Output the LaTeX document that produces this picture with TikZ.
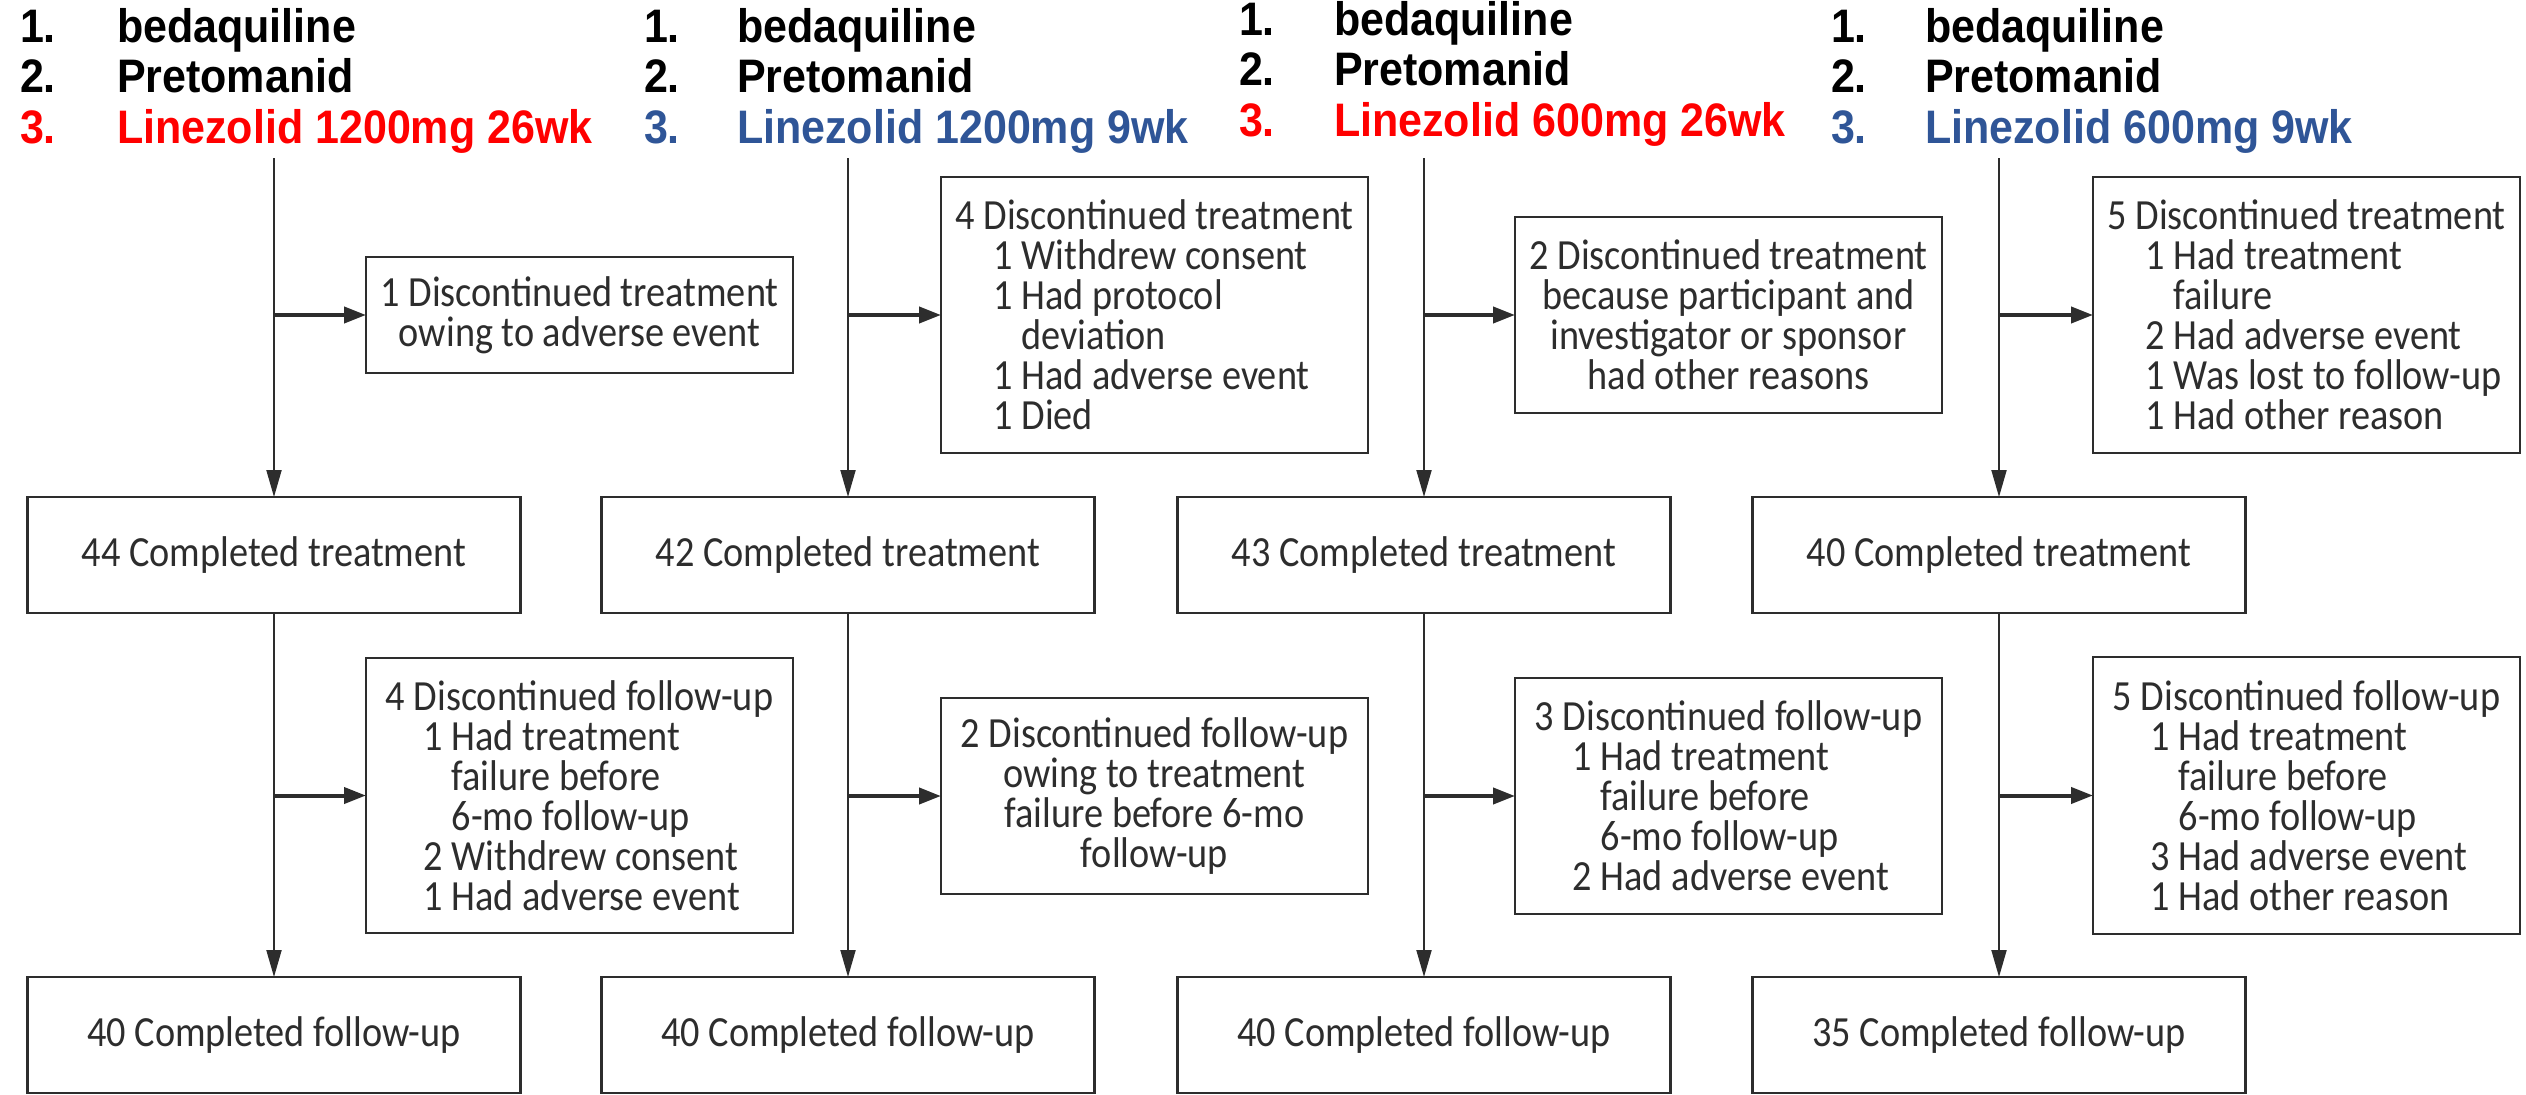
\documentclass[tikz,border=0pt]{standalone}
\usepackage{fontspec}
\usetikzlibrary{arrows.meta}
\newfontfamily\boxfont[FakeStretch=0.89]{Carlito}
\newfontfamily\headfont[FakeStretch=0.915]{Liberation Sans}
\definecolor{armred}{RGB}{255,0,0}
\definecolor{armblue}{RGB}{47,85,151}
\definecolor{ink}{RGB}{45,45,45}
\begin{document}
\begin{tikzpicture}[x=0.5pt,y=-0.5pt,
  every node/.style={inner sep=0pt,outer sep=0pt},
  head/.style={anchor=base west,font=\headfont\bfseries\fontsize{23.5}{26}\selectfont},
  boxbase/.style={draw=ink,line width=1.2pt,fill=white,text=ink,
    font=\boxfont\fontsize{21.5}{20}\selectfont},
  donebox/.style={boxbase,minimum width=246.5pt,minimum height=58pt},
  sidebox/.style={boxbase,minimum width=213.5pt,minimum height=#1},
  lbox/.style={sidebox=#1,align=left},
  cbox/.style={sidebox=#1,align=center},
  trunk/.style={draw=ink,line width=1pt,-{Triangle[length=13.5pt,width=7.5pt]}},
  sidearr/.style={draw=ink,line width=2pt,-{Triangle[length=11pt,width=8pt]}},
]
\useasboundingbox (0,0) rectangle (2526,1094);

% arm headings
\node[head] (n1a) at (20,42) {1.};
\node[head] (d1a) at (117,42) {bedaquiline};
\node[head] (n1b) at (20,92) {2.};
\node[head] (d1b) at (117,92) {Pretomanid};
\node[head,text=armred] (n1c) at (20,143) {3.};
\node[head,text=armred] (d1c) at (117,143) {Linezolid 1200mg 26wk};

\node[head] (n2a) at (644,42) {1.};
\node[head] (d2a) at (737,42) {bedaquiline};
\node[head] (n2b) at (644,92) {2.};
\node[head] (d2b) at (737,92) {Pretomanid};
\node[head,text=armblue] (n2c) at (644,143) {3.};
\node[head,text=armblue] (d2c) at (737,143) {Linezolid 1200mg 9wk};

\node[head] (n3a) at (1239,35) {1.};
\node[head] (d3a) at (1334,35) {bedaquiline};
\node[head] (n3b) at (1239,85) {2.};
\node[head] (d3b) at (1334,85) {Pretomanid};
\node[head,text=armred] (n3c) at (1239,136) {3.};
\node[head,text=armred] (d3c) at (1334,136) {Linezolid 600mg 26wk};

\node[head] (n4a) at (1831,42) {1.};
\node[head] (d4a) at (1925,42) {bedaquiline};
\node[head] (n4b) at (1831,92) {2.};
\node[head] (d4b) at (1925,92) {Pretomanid};
\node[head,text=armblue] (n4c) at (1831,143) {3.};
\node[head,text=armblue] (d4c) at (1925,143) {Linezolid 600mg 9wk};

% trunk starting points
\coordinate (top1) at (274,158);
\coordinate (top2) at (848,158);
\coordinate (top3) at (1424,158);
\coordinate (top4) at (1999,158);

% completed-treatment boxes
\node[donebox] (ct1) at (274,555) {44 Completed treatment};
\node[donebox] (ct2) at (848,555) {42 Completed treatment};
\node[donebox] (ct3) at (1424,555) {43 Completed treatment};
\node[donebox] (ct4) at (1999,555) {40 Completed treatment};

% completed-follow-up boxes
\node[donebox] (cf1) at (274,1035) {40 Completed follow-up};
\node[donebox] (cf2) at (848,1035) {40 Completed follow-up};
\node[donebox] (cf3) at (1424,1035) {40 Completed follow-up};
\node[donebox] (cf4) at (1999,1035) {35 Completed follow-up};

% treatment discontinuations
\node[cbox=58pt] (dt1) at (579.5,315) {1 Discontinued treatment\\owing to adverse event};
\node[lbox=138pt] (dt2) at (1154.5,315) {4 Discontinued treatment\\
  \hspace*{19pt}1 Withdrew consent\\
  \hspace*{19pt}1 Had protocol\\
  \hspace*{33pt}deviation\\
  \hspace*{19pt}1 Had adverse event\\
  \hspace*{19pt}1 Died};
\node[cbox=98pt] (dt3) at (1728.5,315) {2 Discontinued treatment\\because participant and\\investigator or sponsor\\had other reasons};
\node[lbox=138pt] (dt4) at (2306.5,315) {5 Discontinued treatment\\
  \hspace*{19pt}1 Had treatment\\
  \hspace*{33pt}failure\\
  \hspace*{19pt}2 Had adverse event\\
  \hspace*{19pt}1 Was lost to follow-up\\
  \hspace*{19pt}1 Had other reason};

% follow-up discontinuations
\node[lbox=137.5pt] (df1) at (579.5,795.5) {4 Discontinued follow-up\\
  \hspace*{19pt}1 Had treatment\\
  \hspace*{33pt}failure before\\
  \hspace*{33pt}6-mo follow-up\\
  \hspace*{19pt}2 Withdrew consent\\
  \hspace*{19pt}1 Had adverse event};
\node[cbox=98pt] (df2) at (1154.5,796) {2 Discontinued follow-up\\owing to treatment\\failure before 6-mo\\follow-up};
\node[lbox=118pt] (df3) at (1728.5,796) {3 Discontinued follow-up\\
  \hspace*{19pt}1 Had treatment\\
  \hspace*{33pt}failure before\\
  \hspace*{33pt}6-mo follow-up\\
  \hspace*{19pt}2 Had adverse event};
\node[lbox=138.5pt] (df4) at (2306.5,795.5) {5 Discontinued follow-up\\
  \hspace*{19pt}1 Had treatment\\
  \hspace*{33pt}failure before\\
  \hspace*{33pt}6-mo follow-up\\
  \hspace*{19pt}3 Had adverse event\\
  \hspace*{19pt}1 Had other reason};

% connectors
\foreach \i in {1,2,3,4}{
  \draw[trunk] (top\i) -- (ct\i.north);
  \draw[sidearr] (top\i |- dt\i.west) -- (dt\i.west);
  \draw[trunk] (ct\i.south) -- (cf\i.north);
  \draw[sidearr] (ct\i.south |- df\i.west) -- (df\i.west);
}
\end{tikzpicture}
\end{document}
